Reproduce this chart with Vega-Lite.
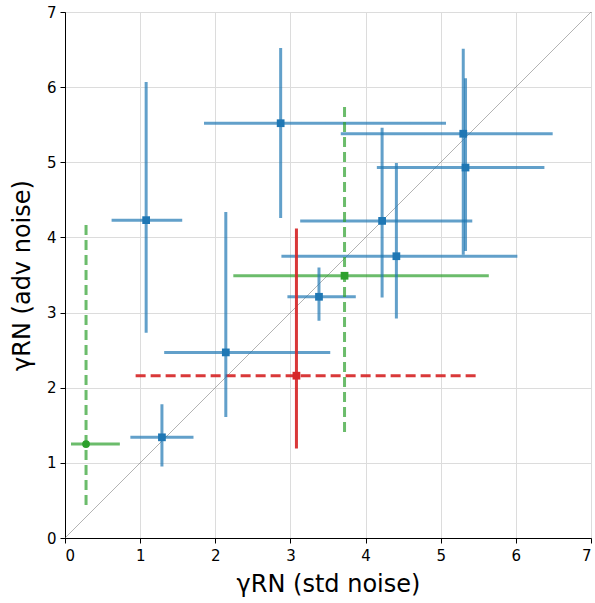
{
  "$schema": "https://vega.github.io/schema/vega-lite/v6.json",
  "width": 526,
  "height": 526,
  "autosize": {"type": "none"},
  "padding": {"left": 65, "top": 12, "right": 4, "bottom": 65},
  "background": "white",
  "config": {
    "view": {"stroke": "black", "strokeWidth": 1},
    "axis": {
      "labelFont": "DejaVu Sans",
      "labelFontSize": 15,
      "labelColor": "black",
      "titleFont": "DejaVu Sans",
      "titleFontSize": 24,
      "titleFontWeight": "normal",
      "titleColor": "black",
      "tickColor": "black",
      "tickSize": 5,
      "domainColor": "black",
      "gridColor": "#dcdcdc",
      "gridWidth": 1
    }
  },
  "datasets": {
    "pts": [
      {"series": "A", "x": 1.08, "y": 4.23, "xlo": 0.62, "xhi": 1.56, "ylo": 2.73, "yhi": 6.07},
      {"series": "A", "x": 2.87, "y": 5.52, "xlo": 1.85, "xhi": 5.07, "ylo": 4.26, "yhi": 6.52},
      {"series": "A", "x": 2.14, "y": 2.47, "xlo": 1.32, "xhi": 3.53, "ylo": 1.61, "yhi": 4.34},
      {"series": "A", "x": 1.29, "y": 1.34, "xlo": 0.87, "xhi": 1.71, "ylo": 0.95, "yhi": 1.78},
      {"series": "A", "x": 3.38, "y": 3.21, "xlo": 2.96, "xhi": 3.87, "ylo": 2.89, "yhi": 3.60},
      {"series": "A", "x": 4.41, "y": 3.75, "xlo": 2.88, "xhi": 6.02, "ylo": 2.92, "yhi": 4.99},
      {"series": "A", "x": 4.22, "y": 4.22, "xlo": 3.13, "xhi": 5.42, "ylo": 3.20, "yhi": 5.46},
      {"series": "A", "x": 5.30, "y": 5.38, "xlo": 3.67, "xhi": 6.49, "ylo": 3.77, "yhi": 6.51},
      {"series": "A", "x": 5.33, "y": 4.93, "xlo": 4.15, "xhi": 6.38, "ylo": 3.82, "yhi": 6.12},
      {"series": "B", "x": 3.72, "y": 3.49, "xlo": 2.24, "xhi": 5.64, "ylo": 1.41, "yhi": 5.77},
      {"series": "D", "x": 0.28, "y": 1.25, "xlo": 0.08, "xhi": 0.73, "ylo": 0.44, "yhi": 4.22},
      {"series": "C", "x": 3.08, "y": 2.16, "xlo": 0.94, "xhi": 5.53, "ylo": 1.19, "yhi": 4.12}
    ],
    "diag": [{"lo": 0, "hi": 7}]
  },
  "layer": [
    {
      "data": {"name": "diag"},
      "mark": {"type": "rule", "color": "#666666", "strokeWidth": 0.5},
      "encoding": {
        "x": {"field": "lo", "type": "quantitative", "scale": {"domain": [0, 7], "nice": false},
              "axis": {"values": [0, 1, 2, 3, 4, 5, 6, 7], "format": "d", "title": "γRN (std noise)", "titlePadding": 9, "labelPadding": 5}},
        "y": {"field": "lo", "type": "quantitative", "scale": {"domain": [0, 7], "nice": false},
              "axis": {"values": [0, 1, 2, 3, 4, 5, 6, 7], "format": "d", "title": "γRN (adv noise)", "titlePadding": 12, "labelPadding": 4}},
        "x2": {"field": "hi"},
        "y2": {"field": "hi"}
      }
    },
    {
      "data": {"name": "pts"},
      "mark": {"type": "rule", "strokeWidth": 3},
      "encoding": {
        "x": {"field": "xlo", "type": "quantitative"},
        "x2": {"field": "xhi"},
        "y": {"field": "y", "type": "quantitative"},
        "color": {"field": "series", "type": "nominal", "legend": null,
                  "scale": {"domain": ["A", "B", "C", "D"], "range": ["#1f77b4", "#2ca02c", "#d62728", "#2ca02c"]}},
        "opacity": {"condition": {"test": "datum.series === 'C'", "value": 0.92}, "value": 0.7},
        "strokeDash": {"condition": {"test": "datum.series === 'C'", "value": [10, 5]}, "value": [1, 0]}
      }
    },
    {
      "data": {"name": "pts"},
      "mark": {"type": "rule", "strokeWidth": 3},
      "encoding": {
        "y": {"field": "ylo", "type": "quantitative"},
        "y2": {"field": "yhi"},
        "x": {"field": "x", "type": "quantitative"},
        "color": {"field": "series", "type": "nominal", "legend": null},
        "opacity": {"condition": {"test": "datum.series === 'C'", "value": 0.92}, "value": 0.7},
        "strokeDash": {"condition": {"test": "datum.series === 'B' || datum.series === 'D'", "value": [10, 5]}, "value": [1, 0]}
      }
    },
    {
      "data": {"name": "pts"},
      "mark": {"type": "point", "filled": true, "opacity": 1, "size": 60},
      "encoding": {
        "x": {"field": "x", "type": "quantitative"},
        "y": {"field": "y", "type": "quantitative"},
        "color": {"field": "series", "type": "nominal", "legend": null},
        "shape": {"field": "series", "type": "nominal", "legend": null,
                  "scale": {"domain": ["A", "B", "C", "D"], "range": ["square", "square", "square", "circle"]}}
      }
    }
  ]
}
